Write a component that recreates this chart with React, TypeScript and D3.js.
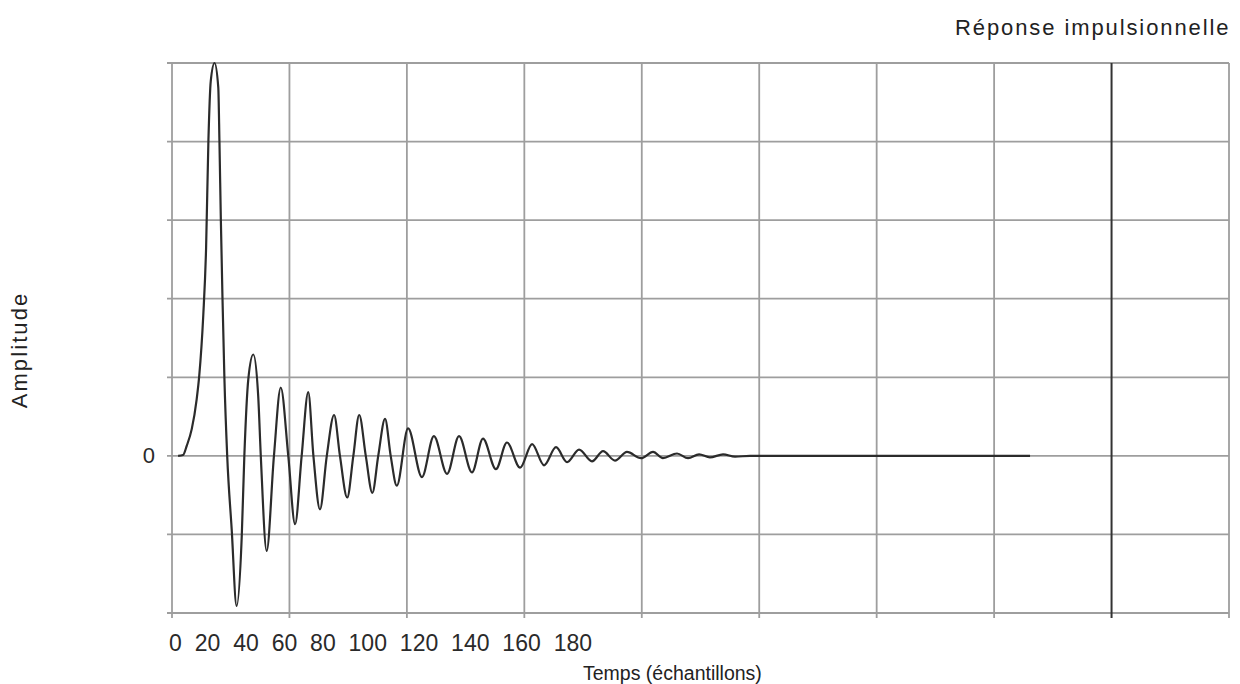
import React from "react";
import * as d3 from "d3";

// impulse response (sample index, amplitude in grid units)
const sampleIdx = [
  2.6, 4.7, 6.3, 8.4, 10.5, 11.6, 13.3, 14.5, 15.5, 16.5, 18.1, 19.7, 20.2, 20.8,
  21.5, 22.3, 23.5, 25.4, 27.5, 29.7, 30.8, 32.5, 34.6, 36.7, 37.8, 40.3, 43.4,
  46.3, 49.5, 52.4, 55.2, 58.0, 60.2, 63.0, 65.9, 69.0, 71.5, 74.6, 77.2, 79.7,
  82.5, 85.3, 87.8, 90.7, 93.1, 95.7, 100.5, 106.4, 111.5, 117.1, 122.2, 127.7,
  132.4, 137.9, 142.6, 148.2, 153.3, 158.4, 163.5, 168.2, 173.3, 178.8, 183.5,
  188.6, 193.7, 199.7, 204.8, 209.0, 215.0, 219.7, 224.4, 229.0, 234.6, 239.7,
  246.1, 365.3,
];
const amplitude = [
  0, 0.01, 0.13, 0.34, 0.72, 1.02, 1.78, 2.63, 4.01, 4.77, 5.0, 4.69, 4.0, 3.0,
  2.0, 1.0, 0, -0.93, -1.91, -1.02, 0, 0.98, 1.29, 0.76, 0, -1.21, 0,
  0.87, 0, -0.87, 0, 0.81, 0, -0.68, 0, 0.52, 0, -0.53, 0, 0.52,
  0, -0.47, 0, 0.47, 0, -0.38, 0.35, -0.27, 0.25, -0.23, 0.25, -0.21,
  0.22, -0.17, 0.17, -0.15, 0.15, -0.12, 0.11, -0.08, 0.08, -0.07, 0.06,
  -0.06, 0.05, -0.03, 0.05, -0.03, 0.03, -0.03, 0.02, -0.02, 0.02, -0.01,
  0, 0,
];

const xGrid = [0, 50, 100, 150, 200, 250, 300, 350, 400, 450];
const yGrid = [-2, -1, 0, 1, 2, 3, 4, 5];
const strongLine = 400;
const xTickLabels = ["0", "20", "40", "60", "80", "100", "120", "140", "160", "180"];
const yTickLabels = [0];

const title = "Réponse impulsionnelle";
const xTitle = "Temps (échantillons)";
const yTitle = "Amplitude";

export default function App() {
  const width = 1240;
  const height = 684;
  const left = 172;
  const right = 1229;
  const top = 63;
  const bottom = 613;
  const tick = 5;
  const font = "'Liberation Sans', Arial, sans-serif";

  const x = d3.scaleLinear().domain([0, 450]).range([left, right]);
  const y = d3.scaleLinear().domain([-2, 5]).range([bottom, top]);

  const points = sampleIdx.map((s, i) => [s, amplitude[i]] as [number, number]);
  const line = d3
    .line<[number, number]>()
    .x((d) => x(d[0]))
    .y((d) => y(d[1]))
    .curve(d3.curveMonotoneX);

  return (
    <svg
      width={width}
      height={height}
      style={{ position: "absolute", left: 0, top: 0, background: "#fff" }}
    >
      <g>
        {yGrid.map((v) => (
          <line
            key={"h" + v}
            x1={left - tick}
            x2={right}
            y1={y(v)}
            y2={y(v)}
            stroke="#9e9e9e"
            strokeWidth={1.8}
          />
        ))}
        {xGrid.map((v) => (
          <line
            key={"v" + v}
            x1={x(v)}
            x2={x(v)}
            y1={top}
            y2={bottom + tick}
            stroke={v === strongLine ? "#333" : "#9e9e9e"}
            strokeWidth={v === strongLine ? 2 : 1.8}
          />
        ))}
      </g>

      <path
        d={line(points) || ""}
        fill="none"
        stroke="#2b2b2b"
        strokeWidth={2.2}
        strokeLinejoin="round"
      />

      {yTickLabels.map((v) => (
        <text
          key={"yl" + v}
          x={left - 17}
          y={y(v)}
          dominantBaseline="central"
          textAnchor="end"
          fontFamily={font}
          fontSize={22}
          fill="#2a2a2a"
        >
          {v}
        </text>
      ))}

      <text
        x={169}
        y={651}
        fontFamily={font}
        fontSize={23}
        wordSpacing={6.5}
        fill="#2a2a2a"
      >
        {xTickLabels.join(" ")}
      </text>

      <text x={583} y={680} fontFamily={font} fontSize={19.5} fill="#222">
        {xTitle}
      </text>

      <text
        transform={`translate(27, 350) rotate(-90)`}
        textAnchor="middle"
        fontFamily={font}
        fontSize={22}
        letterSpacing={2.1}
        fill="#222"
      >
        {yTitle}
      </text>

      <text
        x={955}
        y={35}
        fontFamily={font}
        fontSize={22}
        letterSpacing={1.9}
        fill="#222"
      >
        {title}
      </text>
    </svg>
  );
}
